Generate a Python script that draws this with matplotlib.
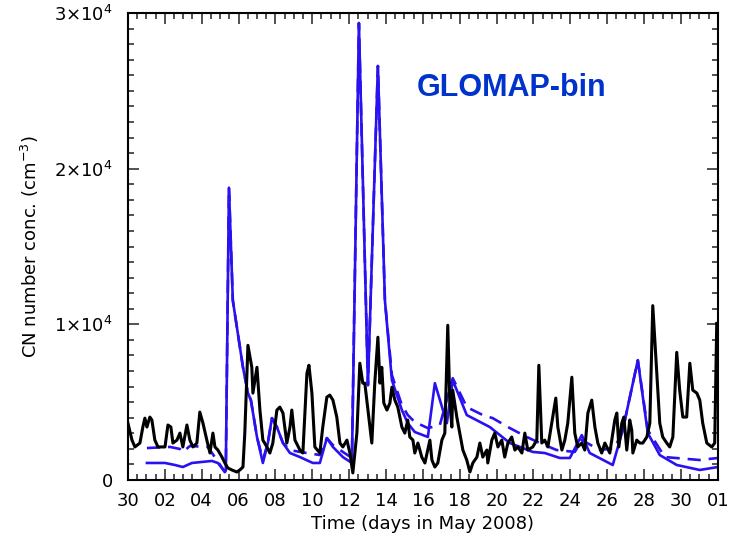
import numpy as np
import matplotlib.pyplot as plt
from matplotlib.ticker import MultipleLocator

# time in days since 30 April 2008, CN number concentration in cm^-3
obs_days = [0.00, 0.22, 0.38, 0.65, 0.81, 0.92, 1.03, 1.19, 1.30, 1.46, 1.63, 2.01, 2.17, 2.33,
            2.44, 2.66, 2.82, 2.98, 3.20, 3.36, 3.53, 3.74, 3.90, 4.07, 4.28, 4.45, 4.61, 4.72,
            4.88, 5.10, 5.26, 5.42, 5.64, 5.91, 6.07, 6.24, 6.34, 6.51, 6.72, 6.78, 7.00, 7.16,
            7.32, 7.54, 7.70, 7.86, 8.08, 8.24, 8.41, 8.62, 8.79, 8.89, 9.06, 9.33, 9.49, 9.71,
            9.82, 9.98, 10.14, 10.41, 10.57, 10.79, 10.95, 11.12, 11.33, 11.50, 11.66, 11.88,
            12.04, 12.20, 12.42, 12.58, 12.74, 12.85, 13.02, 13.23, 13.39, 13.56, 13.67, 13.77,
            13.88, 14.05, 14.21, 14.32, 14.48, 14.64, 14.86, 15.02, 15.18, 15.29, 15.46, 15.56,
            15.73, 15.94, 16.11, 16.38, 16.49, 16.65, 16.81, 17.03, 17.19, 17.35, 17.46, 17.57,
            17.62, 17.84, 18.00, 18.17, 18.38, 18.55, 18.71, 18.93, 19.09, 19.25, 19.47, 19.52,
            19.74, 19.90, 20.07, 20.28, 20.44, 20.61, 20.82, 20.99, 21.15, 21.37, 21.53, 21.69,
            21.96, 22.18, 22.29, 22.45, 22.61, 22.78, 22.99, 23.21, 23.32, 23.54, 23.70, 23.86,
            24.08, 24.24, 24.40, 24.62, 24.78, 24.95, 25.16, 25.33, 25.49, 25.70, 25.87, 26.14,
            26.41, 26.52, 26.63, 26.79, 26.90, 27.06, 27.22, 27.33, 27.39, 27.60, 27.77, 27.93,
            28.15, 28.31, 28.47, 28.69, 28.85, 29.01, 29.23, 29.39, 29.56, 29.77, 29.93, 30.10,
            30.31, 30.48, 30.64, 30.86, 31.02, 31.18, 31.40, 31.67, 31.83, 31.94]
obs_cn = [3650, 2560, 2120, 2370, 3400, 3970, 3400, 4040, 3850, 2560, 2120, 2120, 3530, 3400,
          2370, 2560, 3010, 2120, 3530, 2560, 2120, 2370, 4360, 3650, 2560, 1730, 3010, 2120,
          1920, 1470, 1090, 770, 640, 510, 640, 830, 3010, 8650, 7240, 5580, 7240, 4490,
          2560, 2120, 1730, 2370, 4490, 4680, 4300, 2370, 3400, 4490, 2560, 1920, 1730, 6860,
          7370, 5580, 2120, 1730, 3400, 5320, 5450, 5130, 4040, 2370, 2120, 2560,
          1730, 450, 3010, 7500, 6220, 6220, 4490, 2370, 6220, 9170, 6220, 7240,
          4940, 4490, 4940, 5960, 5130, 4680, 3400, 3010, 3850, 2760, 2560, 1730,
          2370, 1470, 1090, 2560, 1280, 830, 1090, 2560, 3010, 9940, 5130, 3400,
          5770, 4040, 3010, 1920, 1280, 510, 1090, 1470, 2370, 1470, 1920, 1090,
          2560, 3010, 2120, 2560, 1470, 2370, 2760, 1920, 2120, 1730, 3010, 1920,
          2120, 2560, 7370, 2370, 2560, 2120, 3650, 5260, 3400, 1920, 2560, 3650,
          6600, 3010, 2120, 2370, 1920, 4300, 5130, 3400, 2370, 1730, 2370, 1730,
          3850, 4300, 2120, 3650, 4040, 1920, 3850, 3200, 1730, 2560, 2370, 2370,
          2760, 3650, 11200, 6860, 3650, 2760, 2370, 2120, 2760, 8200, 5770, 4040,
          4040, 7500, 5770, 5580, 5130, 3650, 2370, 2120, 2370, 10060]

bin_days = [1.03, 2.01, 2.55, 2.98, 3.47, 4.55, 4.88, 5.26, 5.31, 5.48, 5.69, 6.24, 6.51, 6.67,
            7.00, 7.32, 7.59, 7.81, 8.08, 8.41, 8.79, 9.33, 10.03, 10.41, 10.79, 11.12, 11.66,
            12.15, 12.53, 13.02, 13.56, 13.94, 14.32, 14.86, 15.18, 15.56, 16.27, 16.65, 17.30,
            17.62, 18.38, 19.63, 20.72, 21.96, 22.61, 23.43, 23.97, 24.62, 25.05, 26.30, 26.84,
            27.66, 28.20, 28.85, 29.77, 31.02, 32.00]
bin_cn = [1090, 1090, 960, 830, 1090, 1220, 1090, 510, 640, 18780, 11540, 7240, 5580, 5130,
          2760, 1090, 2370, 3970, 3400, 2370, 1730, 1470, 1090, 1090, 2690, 2120, 1470,
          1090, 29360, 6090, 26600, 11540, 6410, 4490, 3650, 3080, 2760, 6220, 3650,
          6410, 4170, 3400, 2370, 1800, 1730, 1410, 1410, 2880, 1730, 960, 3200,
          7690, 3010, 1600, 960, 640, 830]

bin2_days = [1.03, 2.28, 2.82, 2.98, 3.36, 4.34, 5.26, 5.31, 5.48, 5.69, 6.24, 6.51, 6.67, 7.00,
             7.32, 7.59, 7.81, 8.08, 8.41, 8.79, 9.33, 10.41, 10.79, 11.12, 11.66, 12.15, 12.53,
             13.02, 13.56, 13.94, 14.32, 14.86, 15.18, 15.56, 16.27, 16.92, 17.62, 18.38, 19.25,
             19.79, 20.72, 21.64, 22.34, 23.26, 24.24, 24.62, 25.60, 26.41, 26.84, 27.66, 28.20,
             29.12, 31.02, 32.00]
bin2_cn = [2050, 2120, 1990, 1790, 2180, 2120, 510, 640, 18780, 11540, 7240, 5580, 5130, 2760,
           1280, 2370, 3970, 3400, 2370, 1920, 1800, 1600, 2690, 2240, 1800, 1410, 29360,
           6090, 26600, 11540, 6730, 4810, 4170, 3720, 3330, 3530, 6540, 4680, 4170,
           3970, 3330, 2760, 2370, 1920, 1800, 2560, 1920, 2050, 3200, 7690, 3200,
           1470, 1280, 1410]

xtick_pos = np.arange(0, 33, 2)
xtick_labels = ['30', '02', '04', '06', '08', '10', '12', '14', '16', '18',
                '20', '22', '24', '26', '28', '30', '01']
ytick_pos = [0, 10000, 20000, 30000]
ytick_labels = ['0', r'$1{\times}10^4$', r'$2{\times}10^4$', r'$3{\times}10^4$']

plt.rcParams['font.family'] = 'DejaVu Sans'
plt.rcParams['mathtext.fontset'] = 'dejavusans'

fig = plt.figure(figsize=(7.31, 5.46), dpi=100)
ax = fig.add_axes([0.175, 0.121, 0.807, 0.855])

blue = '#2a12f0'
ax.plot(bin2_days, bin2_cn, color=blue, lw=1.9, linestyle=(0, (5, 3)))
ax.plot(bin_days, bin_cn, color=blue, lw=1.9)
ax.plot(obs_days, obs_cn, color='black', lw=2.2)

ax.set_xlim(0, 32)
ax.set_ylim(0, 30000)
ax.set_xticks(xtick_pos)
ax.set_xticklabels(xtick_labels)
ax.set_yticks(ytick_pos)
ax.set_yticklabels(ytick_labels)
ax.xaxis.set_minor_locator(MultipleLocator(0.5))
ax.yaxis.set_minor_locator(MultipleLocator(1000))
ax.tick_params(which='both', direction='in', top=True, right=True, width=1.1,
               labelsize=13, color='#222222')
ax.tick_params(which='major', length=8)
ax.tick_params(which='minor', length=4.5)
ax.tick_params(axis='x', pad=9)
ax.tick_params(axis='y', pad=11)
for s in ax.spines.values():
    s.set_linewidth(1.5)

ax.set_xlabel('Time (days in May 2008)', fontsize=13, labelpad=3)
ax.set_ylabel('CN number conc. (cm$^{-3}$)', fontsize=13, labelpad=9)

ax.text(0.49, 0.84, 'GLOMAP-bin', transform=ax.transAxes, color='#0033cc',
        fontsize=22, fontweight='bold', family='Liberation Sans', va='center')

fig.savefig('out.png', dpi=100)
